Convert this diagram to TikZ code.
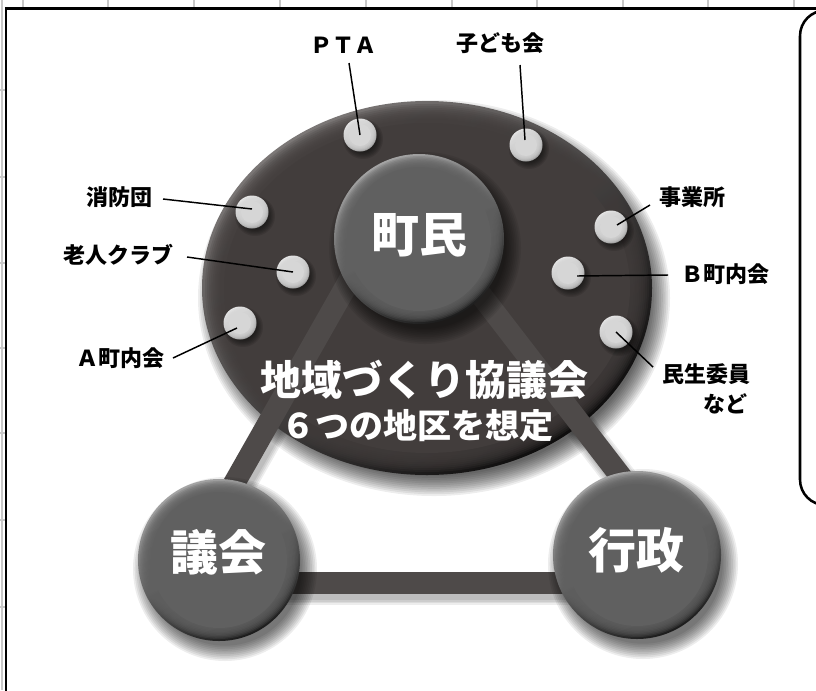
\documentclass[tikz,border=0pt]{standalone}
\usepackage{fontspec}
\newfontfamily\jp{Noto Sans CJK JP}
\usetikzlibrary{calc}
\definecolor{gridc}{HTML}{C8C8C8}
\definecolor{ellbody}{HTML}{423D3C}
\definecolor{elllight}{HTML}{7C7877}
\definecolor{elldark}{HTML}{0E0D0D}
\definecolor{barc}{HTML}{4E4A49}
\definecolor{ballbody}{HTML}{606060}
\definecolor{balllight}{HTML}{A4A4A4}
\definecolor{balldark}{HTML}{1C1C1C}
\definecolor{dotc}{HTML}{D6D6D6}
\definecolor{dotlight}{HTML}{E6E6E6}
\definecolor{dotdark}{HTML}{A0A0A0}
\tikzset{
  lbl/.style={font=\jp\bfseries\fontsize{16.5pt}{20pt}\selectfont, inner sep=0pt, text=black},
  bigw/.style={font=\jp\bfseries\fontsize{36pt}{36pt}\selectfont, inner sep=0pt, text=white},
  leader/.style={line width=1.1pt, black},
  barline/.style={line width=16.5pt, barc},
  gridline/.style={gridc, line width=1.3pt},
  frameline/.style={black, line width=1.9pt, fill=white},
}
\newcommand\myball[2]{%
  \foreach \i in {0,...,9}{\fill[black,opacity=0.07] ($(#1)+(6,9)$) circle [radius={#2+11-\i*1.7}];}
  \shade[top color=balllight,bottom color=balldark,shading angle=25] (#1) circle [radius=#2];
  \foreach \i in {0,...,7}{\fill[ballbody,opacity=0.25] (#1) circle [radius={#2-2-\i*1.4}];}
  \fill[ballbody] (#1) circle [radius={#2-13}];
}
\newcommand\mydot[1]{%
  \foreach \i in {0,...,5}{\fill[black,opacity=0.1] ($(#1)+(3,4)$) circle [radius={20-\i*1.3}];}
  \shade[top color=dotlight,bottom color=dotdark,shading angle=30] (#1) circle [radius=16.5];
  \foreach \i in {0,...,4}{\fill[dotc,opacity=0.3] (#1) circle [radius={15.5-\i}];}
  \fill[dotc] (#1) circle [radius=11];
}
\begin{document}
\begin{tikzpicture}[x=0.75pt,y=-0.75pt]
\useasboundingbox (0,0) rectangle (816,690);
\clip (0,0) rectangle (816,690);
\fill[white] (0,0) rectangle (816,690);
% spreadsheet grid behind
\foreach \x in {2,23,108,194,280,366,452,537,623,708,794}{\draw[gridline] (\x,0) -- (\x,690);}
\foreach \y in {90,177,263,348,433,520,607}{\draw[gridline] (0,\y) -- (816,\y);}
% main frame and right box
\draw[frameline] (6,8.5) rectangle (840,720);
\draw[frameline, rounded corners=19pt] (800,10.5) rectangle (900,505);

% positions
\coordinate (area) at (427,288);
\coordinate (town) at (419,239);
\coordinate (council) at (219,560);
\coordinate (admin) at (637,555);

% bar shadows
\begin{scope}[transform canvas={shift={(2.25pt,-4.5pt)}}]
\foreach \w in {24,21.5,19,16.5}{
  \draw[black,opacity=0.07,line width=\w pt] ($(town)+(-58,21)$) -- ($(council)+(-17,-20)$);
  \draw[black,opacity=0.07,line width=\w pt] ($(town)+(35,21)$) -- ($(admin)+(25,-25)$);
  \draw[black,opacity=0.07,line width=\w pt] ($(council)+(0,23)$) -- ($(admin)+(0,28)$);
}
\end{scope}

% big ellipse
\foreach \i in {0,...,11}{\fill[black,opacity=0.07] ($(area)+(7,10)$) ellipse [x radius={236-\i*1.8}, y radius={198-\i*1.8}];}
\shade[top color=elllight,bottom color=elldark,shading angle=35] (area) ellipse [x radius=225, y radius=187];
\foreach \i in {0,...,8}{\fill[ellbody,opacity=0.22] (area) ellipse [x radius={222-\i*1.9}, y radius={184-\i*1.9}];}
\fill[ellbody] (area) ellipse [x radius=203, y radius=165];

% connecting bars
\draw[barline] ($(town)+(-58,21)$) -- ($(council)+(-17,-20)$);
\draw[barline] ($(town)+(35,21)$) -- ($(admin)+(25,-25)$);
\draw[barline] ($(council)+(0,23)$) -- ($(admin)+(0,28)$);

% big circles
\myball{town}{85}
\myball{council}{81}
\myball{admin}{84}

% small dots
\foreach \n/\x/\y in {pta/360/135, kodomo/526/145, shobo/252/212, rojin/293/272, amachi/240/323, jigyo/611/227, bmachi/568/273, minsei/616/332}{
  \coordinate (\n) at (\x,\y);
}
\foreach \n in {pta,kodomo,shobo,rojin,amachi,jigyo,bmachi,minsei}{\mydot{\n}}

% labels
\node[lbl] (ptaT) at (343,45) {ＰＴＡ};
\node[lbl] (kodomoT) at (500,43) {子ども会};
\node[lbl] (shoboT) at (119,197) {消防団};
\node[lbl] (rojinT) at (118,255) {老人クラブ};
\node[lbl] (amachiT) at (120,358) {Ａ町内会};
\node[lbl] (jigyoT) at (692,197) {事業所};
\node[lbl] (bmachiT) at (725,274) {Ｂ町内会};
\node[lbl, align=left, font=\jp\bfseries\fontsize{16.5pt}{22.5pt}\selectfont] (minseiT) at (706,389) {民生委員\\\hspace*{1.9em}など};

% leader lines
\coordinate (ptaL) at (349,63);
\coordinate (kodomoL) at (520,65);
\coordinate (shoboL) at (163,199);
\coordinate (rojinL) at (187,257);
\coordinate (amachiL) at (173,358);
\coordinate (jigyoL) at (650,205);
\coordinate (bmachiL) at (668,275);
\coordinate (minseiL) at (653,367);
\draw[leader] (ptaL) -- (pta);
\draw[leader] (kodomoL) -- ($(kodomo)+(-1,-5)$);
\draw[leader] (shoboL) -- ($(shobo)+(0,-3)$);
\draw[leader] (rojinL) -- (rojin);
\draw[leader] (amachiL) -- ($(amachi)+(-3,5)$);
\draw[leader] (jigyoL) -- ($(jigyo)+(6,-2)$);
\draw[leader] (bmachiL) -- ($(bmachi)+(9,3)$);
\draw[leader] (minseiL) -- (minsei);

% white texts
\node[bigw] (townT) at (419,235) {町民};
\node[bigw] (councilT) at (218,552) {議会};
\node[bigw] (adminT) at (636,550) {行政};
\node[text=white, inner sep=0pt, font=\jp\bfseries\fontsize{30.75pt}{32pt}\selectfont] (areaT1) at (424,380) {地域づくり協議会};
\node[text=white, inner sep=0pt, font=\jp\bfseries\fontsize{25.5pt}{28pt}\selectfont] (areaT2) at (417,426) {６つの地区を想定};
\end{tikzpicture}
\end{document}
